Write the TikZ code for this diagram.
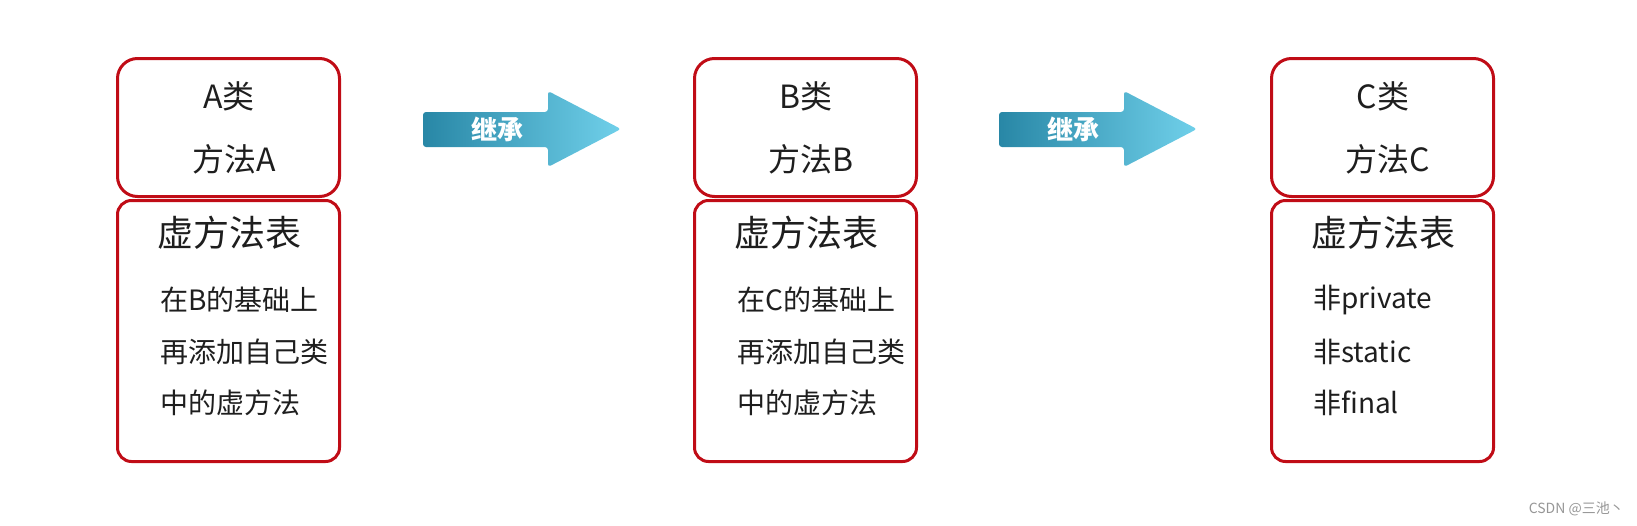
\documentclass[tikz,border=0pt]{standalone}
\usepackage{fontspec}
\setmainfont{Noto Sans CJK SC}
\newfontfamily\cjk{Noto Sans CJK SC}
\usetikzlibrary{shadings}
\definecolor{boxred}{RGB}{192,12,22}
\definecolor{arrdark}{RGB}{40,135,166}
\definecolor{arrlight}{RGB}{112,208,234}
\definecolor{txt}{RGB}{30,30,30}
\definecolor{wm}{RGB}{150,150,150}
\tikzset{
  headbox/.style={draw=boxred, line width=3pt, rounded corners=20pt, minimum width=222pt, minimum height=138pt, inner sep=0pt},
  tablebox/.style={draw=boxred, line width=3pt, rounded corners=14pt, minimum width=222pt, minimum height=261pt, inner sep=0pt},
  title/.style={font=\cjk\fontsize{32pt}{36pt}\selectfont, text=txt, inner sep=0pt},
  tabtitle/.style={font=\cjk\fontsize{36pt}{40pt}\selectfont, text=txt, inner sep=0pt},
  item/.style={font=\cjk\fontsize{28pt}{32pt}\selectfont, text=txt, anchor=west, inner sep=0pt},
  arrtext/.style={font=\cjk\bfseries\fontsize{26pt}{30pt}\selectfont, text=white, inner sep=0pt},
}
\begin{document}
\begin{tikzpicture}[x=1pt,y=-1pt]
\useasboundingbox (0,0) rectangle (1637,525);
% ---- class A
\node[headbox] (ha) at (228.5,127.5) {};
\node[tablebox] (ta) at (228.5,331) {};
\node[title] (ta1) at (229,96) {A类};
\node[title] (ta2) at (234,159) {方法A};
\node[tabtitle] (tta) at (229,233) {虚方法表};
\node[item] (ia1) at (160,300) {在B的基础上};
\node[item] (ia2) at (160,352) {再添加自己类};
\node[item] (ia3) at (160,403) {中的虚方法};
% ---- class B
\node[headbox] (hb) at (805.5,127.5) {};
\node[tablebox] (tb) at (805.5,331) {};
\node[title] (tb1) at (806,96) {B类};
\node[title] (tb2) at (811,159) {方法B};
\node[tabtitle] (ttb) at (806,233) {虚方法表};
\node[item] (ib1) at (737,300) {在C的基础上};
\node[item] (ib2) at (737,352) {再添加自己类};
\node[item] (ib3) at (737,403) {中的虚方法};
% ---- class C
\node[headbox] (hc) at (1382.5,127.5) {};
\node[tablebox] (tc) at (1382.5,331) {};
\node[title] (tc1) at (1383,96) {C类};
\node[title] (tc2) at (1388,159) {方法C};
\node[tabtitle] (ttc) at (1383,233) {虚方法表};
\node[item] (ic1) at (1313,300) {非private};
\node[item] (ic2) at (1313,352) {非static};
\node[item] (ic3) at (1313,403) {非final};
% ---- arrows
\foreach \dx/\nm in {0/arra,576/arrb}{
  \begin{scope}[xshift=\dx pt]
  \shade[left color=arrdark, right color=arrlight, rounded corners=3pt]
    (423,112) -- (548,112) -- (548,91) -- (621,129) -- (548,167) -- (548,147) -- (423,147) -- cycle;
  \node[arrtext] (\nm) at (497,129) {继承};
  \end{scope}
}
% ---- watermark
\node[font=\cjk\fontsize{14pt}{16pt}\selectfont, text=wm, anchor=east, inner sep=0pt] (wmk) at (1624,509) {CSDN @三池丶};
\end{tikzpicture}
\end{document}
